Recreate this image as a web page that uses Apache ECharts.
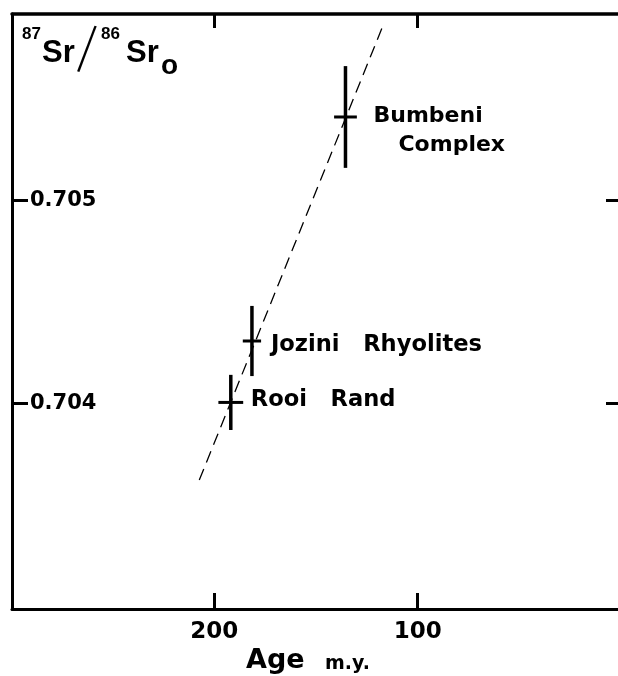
<!DOCTYPE html>
<html><head><meta charset="utf-8">
<script src="https://cdn.jsdelivr.net/npm/echarts@6/dist/echarts.min.js"></script>
<style>html,body{margin:0;padding:0;background:#fff}#c{width:618px;height:676px}</style>
</head><body><div id="c"></div>
<script>
// ---- data ----
const sampleNames = ['Rooi Rand', 'Jozini Rhyolites', 'Bumbeni Complex'];
const ages = [191.9, 181.5, 135.5];          // m.y.
const ageErrors = [6.1, 4.5, 5.6];
const ratios = [0.704004, 0.704307, 0.705412]; // 87Sr/86Sr initial
const ratioErrors = [0.000136, 0.000173, 0.000251];
const trendAges = [207.4, 116.4];
const trendRatios = [0.703621, 0.705879];
const xTickValues = [200, 100];
const yTickValues = [0.704, 0.705];

// ---- layout / style (not data) ----
const labelLayouts = [
  { dx: 20, dy: -2, gap: '   ' },
  { dx: 19, dy: 4, gap: '   ' },
  { dx: 28, dy: -1, twoLine: true, indent: 25, lineGap: 29 }
];
const LABEL_FONT = 'bold 22.6px "DejaVu Sans"';

const chart = echarts.init(document.getElementById('c'), null, { renderer: 'canvas' });

const xRange = { min: 0, max: 299.5 };
const yRange = { min: 0.702985, max: 0.70592 };

const axisLineStyle = { color: '#000', width: 3 };

const option = {
  animation: false,
  backgroundColor: '#fff',
  grid: { left: 12, top: 14, width: 609, height: 595, containLabel: false, outerBoundsMode: 'none' },
  xAxis: [
    {
      type: 'value', position: 'bottom', inverse: true, ...xRange,
      axisLine: { show: true, onZero: false, lineStyle: axisLineStyle },
      axisTick: { show: true, inside: true, length: 16, customValues: xTickValues, lineStyle: { color: '#000', width: 3 } },
      axisLabel: { show: true, customValues: xTickValues, color: '#000', fontFamily: 'DejaVu Sans', fontWeight: 'bold', fontSize: 23, margin: 12 },
      splitLine: { show: false }
    },
    {
      type: 'value', position: 'top', inverse: true, ...xRange,
      axisLine: { show: true, onZero: false, lineStyle: { color: '#000', width: 3.5 } },
      axisTick: { show: true, inside: true, length: 14, customValues: xTickValues, lineStyle: { color: '#000', width: 3 } },
      axisLabel: { show: false },
      splitLine: { show: false }
    }
  ],
  yAxis: [
    {
      type: 'value', position: 'left', ...yRange,
      axisLine: { show: true, onZero: false, lineStyle: axisLineStyle },
      axisTick: { show: true, inside: true, length: 16, customValues: yTickValues, lineStyle: { color: '#000', width: 3 } },
      axisLabel: { show: true, inside: true, customValues: yTickValues, margin: 18, color: '#000', fontFamily: 'DejaVu Sans', fontWeight: 'bold', fontSize: 21, formatter: v => v.toFixed(3) },
      splitLine: { show: false }
    },
    {
      type: 'value', position: 'right', ...yRange,
      axisLine: { show: true, onZero: false, lineStyle: axisLineStyle },
      axisTick: { show: true, inside: true, length: 15, customValues: yTickValues, lineStyle: { color: '#000', width: 3 } },
      axisLabel: { show: false },
      splitLine: { show: false }
    }
  ],
  series: [
    {
      type: 'line',
      data: trendAges.map((a, i) => [a, trendRatios[i]]),
      symbol: 'none',
      lineStyle: { color: '#000', width: 1.3, type: [12, 7] },
      silent: true
    },
    {
      type: 'custom',
      data: ages.map((a, i) => [a, ratios[i], ageErrors[i], ratioErrors[i]]),
      renderItem: function (params, api) {
        const i = params.dataIndex;
        const age = api.value(0), r = api.value(1), ae = api.value(2), re = api.value(3);
        const c = api.coord([age, r]);
        const top = api.coord([age, r + re]);
        const bot = api.coord([age, r - re]);
        const lft = api.coord([age + ae, r]);
        const rgt = api.coord([age - ae, r]);
        const L = labelLayouts[i];
        const children = [
          { type: 'line', shape: { x1: top[0], y1: top[1], x2: bot[0], y2: bot[1] }, style: { stroke: '#000', lineWidth: 3.5 } },
          { type: 'line', shape: { x1: lft[0], y1: c[1], x2: rgt[0], y2: c[1] }, style: { stroke: '#000', lineWidth: 3 } }
        ];
        const name = sampleNames[i];
        if (L.twoLine) {
          const parts = name.split(' ');
          children.push({ type: 'text', x: c[0] + L.dx, y: c[1] + L.dy, style: { text: parts[0], font: 'bold 22px "DejaVu Sans"', fill: '#000', align: 'left', verticalAlign: 'middle' } });
          children.push({ type: 'text', x: c[0] + L.dx + L.indent, y: c[1] + L.dy + L.lineGap, style: { text: parts[1], font: 'bold 22px "DejaVu Sans"', fill: '#000', align: 'left', verticalAlign: 'middle' } });
        } else {
          children.push({ type: 'text', x: c[0] + L.dx, y: c[1] + L.dy, style: { text: name.split(' ').join(L.gap), font: LABEL_FONT, fill: '#000', align: 'left', verticalAlign: 'middle' } });
        }
        return { type: 'group', children };
      },
      silent: true
    }
  ],
  graphic: [
    { type: 'text', x: 22, y: 34, style: { text: '87', font: 'bold 17px "Liberation Sans"', fill: '#000', verticalAlign: 'middle' } },
    { type: 'text', x: 42, y: 53.5, style: { text: 'Sr', font: 'bold 31px "Liberation Sans"', fill: '#000', verticalAlign: 'middle' } },
    { type: 'text', x: 85.5, y: 54, scaleY: 2.2, rotation: -0.24, style: { text: '/', font: '30px "Liberation Sans"', fill: '#000', align: 'center', verticalAlign: 'middle' } },
    { type: 'text', x: 101, y: 34, style: { text: '86', font: 'bold 17px "Liberation Sans"', fill: '#000', verticalAlign: 'middle' } },
    { type: 'text', x: 126, y: 53.5, style: { text: 'Sr', font: 'bold 31px "Liberation Sans"', fill: '#000', verticalAlign: 'middle' } },
    { type: 'text', x: 161, y: 66, style: { text: 'o', font: 'bold 28px "Liberation Sans"', fill: '#000', verticalAlign: 'middle' } },
    { type: 'text', x: 246, y: 661, style: { text: 'Age', font: 'bold 27px "DejaVu Sans"', fill: '#000', verticalAlign: 'middle' } },
    { type: 'text', x: 325, y: 664, style: { text: 'm.y.', font: 'bold 19px "DejaVu Sans"', fill: '#000', verticalAlign: 'middle' } }
  ]
};
chart.setOption(option);
</script>
</body></html>
